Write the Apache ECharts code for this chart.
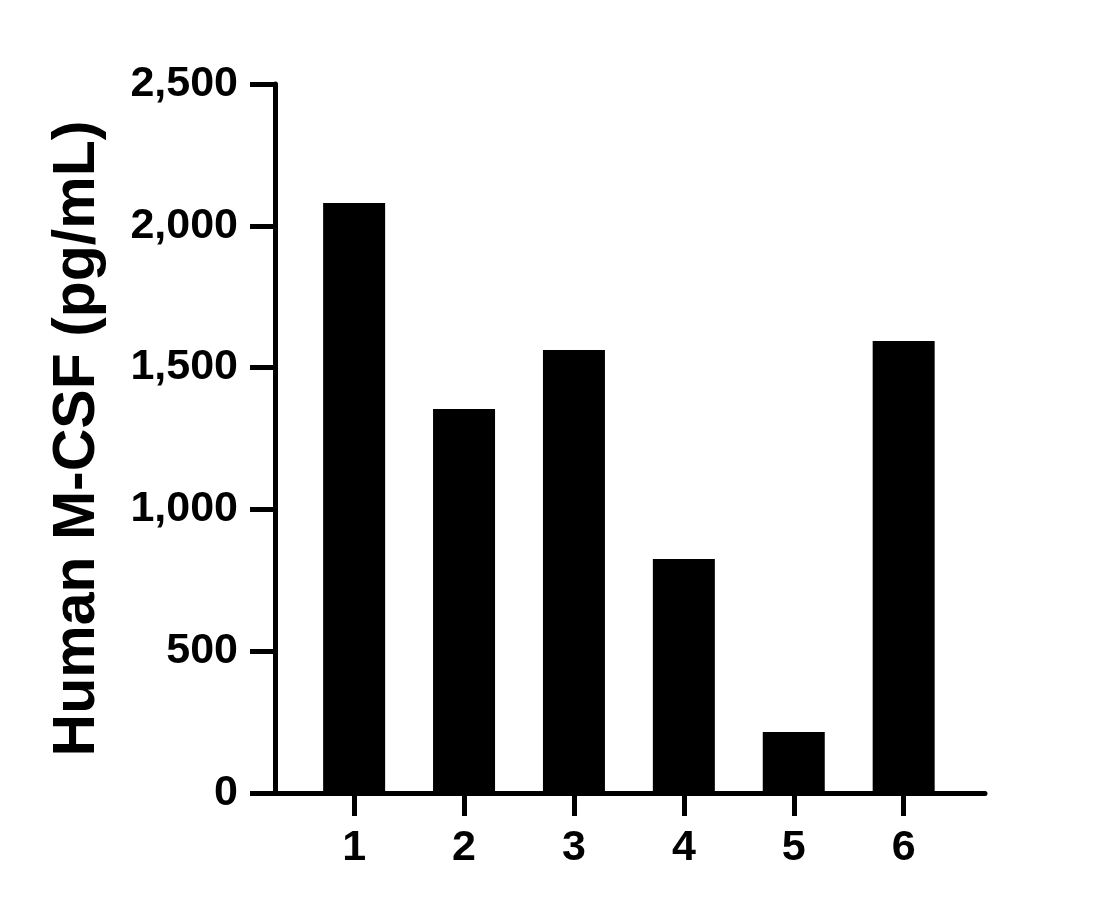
<!DOCTYPE html>
<html>
<head>
<meta charset="utf-8">
<script src="https://cdn.jsdelivr.net/npm/echarts@6/dist/echarts.min.js"></script>
<style>
  html, body { margin: 0; padding: 0; background: #fff; }
  #main { width: 1117px; height: 910px; }
</style>
</head>
<body>
<div id="main"></div>
<script>
const samples = [1, 2, 3, 4, 5, 6];
const values = [2080, 1354, 1562, 825, 215, 1594];

const font = "'Liberation Sans', Arial, sans-serif";

const chart = echarts.init(document.getElementById("main"));

chart.setOption({
  animation: false,
  grid: { left: 275, right: 132, top: 84, bottom: 117 },
  xAxis: {
    type: "value",
    min: 0.28,
    max: 6.74,
    splitLine: { show: false },
    axisLine: { lineStyle: { color: "#000", width: 5 } },
    axisTick: { customValues: samples, length: 23, lineStyle: { color: "#000", width: 5 } },
    axisLabel: {
      customValues: samples,
      margin: 34,
      color: "#000",
      fontFamily: font,
      fontWeight: "bold",
      fontSize: 43,
    },
  },
  yAxis: {
    type: "value",
    min: 0,
    max: 2500,
    interval: 500,
    name: "Human M-CSF (pg/mL)",
    nameLocation: "middle",
    nameGap: 168,
    nameTextStyle: {
      color: "#000",
      fontFamily: font,
      fontWeight: "bold",
      fontSize: 59,
    },
    splitLine: { show: false },
    axisLine: { show: true, lineStyle: { color: "#000", width: 5 } },
    axisTick: { show: true, length: 25, lineStyle: { color: "#000", width: 5 } },
    axisLabel: {
      margin: 37,
      color: "#000",
      fontFamily: font,
      fontWeight: "bold",
      fontSize: 43,
      formatter: (v) => v.toLocaleString("en-US"),
    },
  },
  series: [
    {
      type: "bar",
      barWidth: 62,
      itemStyle: { color: "#000" },
      data: samples.map((s, i) => [s, values[i]]),
    },
  ],
});
</script>
</body>
</html>
